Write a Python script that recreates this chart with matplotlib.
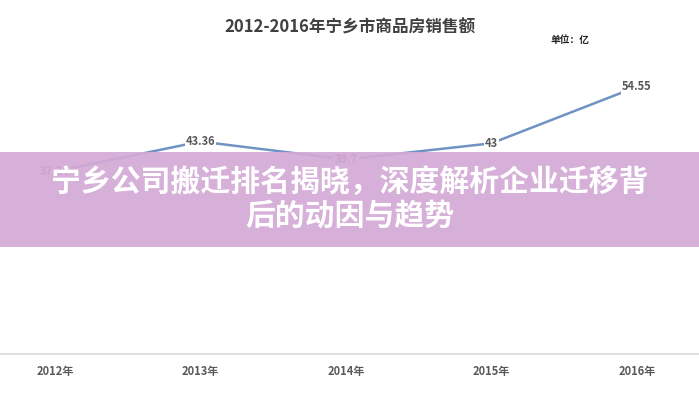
import matplotlib.pyplot as plt
from matplotlib.patches import Rectangle

plt.rcParams['font.family'] = ['Noto Sans CJK SC', 'DejaVu Sans']

years = ['2012年', '2013年', '2014年', '2015年', '2016年']
sales = [37.24, 43.36, 39.7, 43, 54.55]
labels = ['37.24', '43.36', '39.7', '43', '54.55']

title = '2012-2016年宁乡市商品房销售额'
unit = '单位：亿'
banner = '宁乡公司搬迁排名揭晓，深度解析企业迁移背\n后的动因与趋势'

fig = plt.figure(figsize=(6.99, 4.0), dpi=100)
ax = fig.add_axes([0, 46 / 400, 1, (354 - 60) / 400])

x = list(range(len(years)))
ax.plot(x, sales, color='#6f93c4', lw=1.8, zorder=2)
for xi, v, lab in zip(x, sales, labels):
    ax.text(xi, v, lab, ha='center', va='center', fontsize=8, fontweight='bold',
            color='#595959', zorder=3,
            bbox=dict(boxstyle='square,pad=0.1', fc='white', ec='none'))

ax.set_xlim(-55 / 145.5, (699 - 55) / 145.5)
ax.set_ylim(0, 60)
ax.set_xticks(x)
ax.set_xticklabels(years, fontsize=8, fontweight='bold', color='#595959')
ax.tick_params(axis='x', length=0, pad=8)
ax.set_yticks([])
for s in ['top', 'left', 'right']:
    ax.spines[s].set_visible(False)
ax.spines['bottom'].set_color('#d9d9d9')
ax.spines['bottom'].set_linewidth(1.2)

fig.text(0.5, 1 - 28 / 400, title, ha='center', va='center', fontsize=12,
         fontweight='bold', color='#404040')
fig.text(570 / 699, 1 - 40 / 400, unit, ha='center', va='center', fontsize=7,
         fontweight='bold', color='#222222')

# banner overlay
fig.patches.append(Rectangle((0, 1 - 247 / 400), 1, 95 / 400, transform=fig.transFigure,
                             facecolor='#d3aad5', alpha=0.92, edgecolor='none', zorder=5))
fig.text(0.5, 1 - 199 / 400, banner, ha='center', va='center', fontsize=21.5,
         fontweight='heavy', color='white', linespacing=1.15, zorder=6)

fig.savefig('out.png', dpi=100)
